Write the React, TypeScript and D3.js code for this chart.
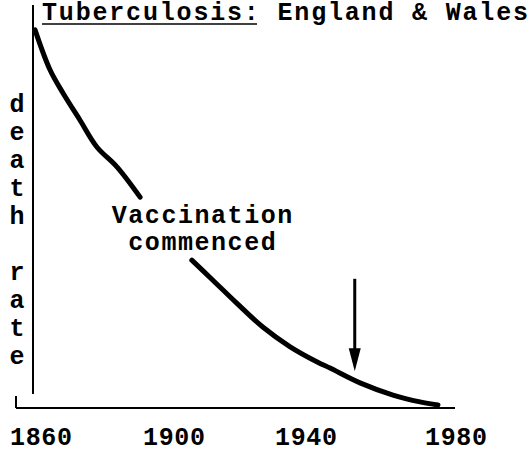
import { useMemo } from 'react';
import * as d3 from 'd3';

// hand drawn axis: tick labels are not evenly spaced
const tickYears = [1860, 1900, 1940, 1980];
const tickPx = [41, 174, 306, 456];

// death rate, arbitrary units (100 = start); null = break for the label
const curveYears = [1858.2, 1862.7, 1866.6, 1871.7, 1876.8, 1882.9, 1889.8, 1897, 1905.4, 1911.7, 1919, 1926.9, 1935.2, 1943, 1946.4, 1954.4, 1963.2, 1970.4, 1975.2];
const deathRate = [99.5, 89, 82.9, 75.8, 68.7, 63.4, 55.5, null, 38.9, 33.7, 27.6, 21.3, 16.1, 12.1, 10.5, 6.6, 3.4, 1.6, 0.8];

const yLabel = ['d', 'e', 'a', 't', 'h', ' ', 'r', 'a', 't', 'e'];
const noteLines = ['Vaccination', 'commenced'];
const arrowYear = 1953;
const arrowFrom = 34;
const arrowTo = 9.7;

const FONT = '"Liberation Mono", "Courier New", monospace';

export default function App() {
	const width = 532;
	const height = 455;

	const xScale = useMemo(() => d3.scaleLinear().domain(tickYears).range(tickPx), []);
	const yScale = useMemo(() => d3.scaleLinear().domain([0, 100]).range([408, 28]), []);

	const pts = curveYears.map((yr, i) => ({ yr, v: deathRate[i] }));
	const line = d3
		.line<{ yr: number; v: number | null }>()
		.defined((d) => d.v !== null)
		.x((d) => xScale(d.yr))
		.y((d) => yScale(d.v as number))
		.curve(d3.curveCatmullRom.alpha(0.5));

	const ax = xScale(arrowYear);
	const headBase = yScale(arrowTo) - 23;
	const tip = yScale(arrowTo);

	return (
		<div style={{ position: 'absolute', left: 0, top: 0 }}>
			<svg width={width} height={height} style={{ display: 'block', background: '#fff' }}>
				{/* title */}
				<text x={42} y={20} fontFamily={FONT} fontWeight="bold" fontSize={25} textLength={486} lengthAdjust="spacing">
					Tuberculosis: England &amp; Wales
				</text>
				<line x1={42} x2={257} y1={24} y2={24} stroke="#000" strokeWidth={1.5} />

				{/* axes */}
				<line x1={33} x2={33} y1={5} y2={394} stroke="#000" strokeWidth={2} />
				<line x1={16} x2={455} y1={408} y2={408} stroke="#000" strokeWidth={2} />
				<line x1={16} x2={16} y1={396} y2={408} stroke="#000" strokeWidth={2} />

				{/* y label, stacked letters */}
				{yLabel.map((ch, i) => (
					<text
						key={i}
						x={17}
						y={112 + i * 28}
						textAnchor="middle"
						fontFamily={FONT}
						fontWeight="bold"
						fontSize={25}
					>
						{ch}
					</text>
				))}

				{/* tick labels */}
				{tickYears.map((yr) => (
					<text
						key={yr}
						x={xScale(yr)}
						y={445}
						textAnchor="middle"
						fontFamily={FONT}
						fontWeight="bold"
						fontSize={25}
						textLength={62}
						lengthAdjust="spacing"
					>
						{yr}
					</text>
				))}

				{/* curve */}
				<path
					d={line(pts) || ''}
					fill="none"
					stroke="#000"
					strokeWidth={5}
					strokeLinecap="round"
					strokeLinejoin="round"
				/>

				{/* annotation */}
				{noteLines.map((t, i) => (
					<text
						key={t}
						x={202}
						y={223 + i * 27}
						textAnchor="middle"
						fontFamily={FONT}
						fontWeight="bold"
						fontSize={25}
						textLength={t.length * 16.6 - 2}
						lengthAdjust="spacing"
					>
						{t}
					</text>
				))}

				<line x1={ax} x2={ax} y1={yScale(arrowFrom)} y2={headBase + 2} stroke="#000" strokeWidth={3} />
				<path
					d={`M${ax - 6},${headBase} L${ax + 6},${headBase} L${ax},${tip} Z`}
					fill="#000"
				/>
			</svg>
		</div>
	);
}
